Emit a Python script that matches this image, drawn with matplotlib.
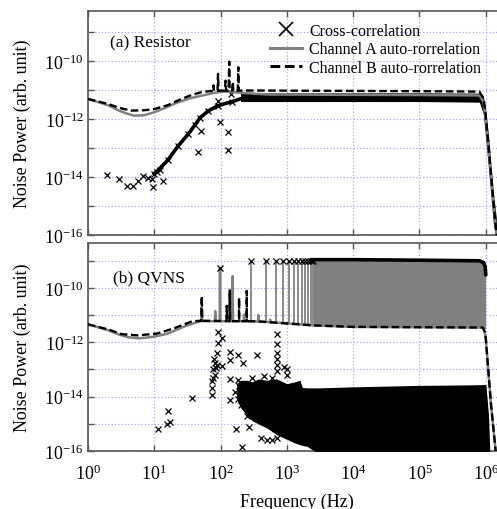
import math
import matplotlib
matplotlib.use('Agg')
import matplotlib.pyplot as plt
from matplotlib.lines import Line2D
from matplotlib.ticker import FixedLocator, FuncFormatter, NullLocator

plt.rcParams['font.family'] = ['Liberation Serif', 'DejaVu Serif']
plt.rcParams['mathtext.fontset'] = 'custom'
plt.rcParams['mathtext.rm'] = 'Liberation Serif'
plt.rcParams['mathtext.it'] = 'Liberation Serif:italic'

# ---------------- (a) Resistor ----------------
res_f_a = [1, 2, 3, 4, 5, 7, 10, 15, 23, 35, 52, 80, 117, 200, 500, 1e4, 1e5,
           8e5, 9.2e5, 1e6, 1.1e6, 1.2e6, 1.3e6, 1.46e6]
res_a = [4.9e-12, 3.0e-12, 1.9e-12, 1.5e-12, 1.3e-12, 1.35e-12, 1.7e-12, 2.5e-12,
         3.8e-12, 5.2e-12, 6.4e-12, 8.0e-12, 8.9e-12, 8.0e-12, 7.0e-12, 6.8e-12,
         6.7e-12, 6.5e-12, 4e-12, 1e-12, 1e-13, 1e-14, 1.4e-15, 1e-16]

res_f_b = [1, 2, 3, 4.5, 7, 10, 16, 24, 35, 52, 70, 77, 78, 79, 90, 91.5, 93,
           115, 119, 121, 132, 135, 137, 150, 153, 155, 182, 185, 188, 250, 1e3,
           1e4, 1e5, 8e5, 9.3e5, 1e6, 1.1e6, 1.2e6, 1.3e6, 1.46e6]
res_b = [4.9e-12, 3.3e-12, 2.4e-12, 1.95e-12, 2.0e-12, 2.2e-12, 3.0e-12, 4.6e-12,
         6.5e-12, 8.5e-12, 9.2e-12, 9.3e-12, 1.45e-11, 9.3e-12, 9.4e-12, 3.6e-11,
         9.5e-12, 9.5e-12, 2.1e-11, 9.5e-12, 9.5e-12, 9.5e-11, 9.5e-12, 9.5e-12,
         1.9e-11, 9.5e-12, 9.5e-12, 6.1e-11, 9.5e-12, 9.6e-12, 9.5e-12, 9.3e-12,
         9.1e-12, 8.8e-12, 5e-12, 1.2e-12, 1.2e-13, 1.2e-14, 1.5e-15, 1e-16]

# cross-correlation: rising part, dense band, scattered points
res_x_f = [10, 16, 23, 32.5, 41, 49, 65, 92, 150, 230]
res_x = [1.28e-14, 3.8e-14, 1.2e-13, 3e-13, 6.2e-13, 1.1e-12, 1.9e-12, 2.9e-12, 4e-12, 5.5e-12]

res_band_f = [200, 300, 1e3, 1e4, 1e5, 8e5, 9.2e5, 1e6, 1.1e6, 1.2e6, 1.3e6, 1.46e6, 1.5e6]
res_band_lo = [4e-12, 4e-12, 4e-12, 4e-12, 4e-12, 3.8e-12, 1.5e-12, 2e-13, 2e-14, 2e-15,
               2.5e-16, 5e-17, 5e-17]
res_band_hi = [8e-12, 8e-12, 8e-12, 8e-12, 8e-12, 7.8e-12, 6e-12, 2e-12, 2.5e-13, 2.5e-14,
               3e-15, 3e-16, 1e-16]

res_sc_f = [1.95, 2.95, 3.9, 4.8, 5.7, 6.8, 8.1, 9.3, 9.6, 11, 12.3, 13.6, 46, 50, 90,
            98, 128, 128, 146]
res_sc = [1.17e-14, 8.5e-15, 4.9e-15, 4.9e-15, 7e-15, 1.1e-14, 9e-15, 8.5e-15, 4.4e-15,
          1.5e-14, 1.7e-14, 7.5e-15, 7.5e-14, 3.9e-13, 4.3e-12, 7.7e-13, 3.6e-13,
          8.3e-14, 7e-12]

# ---------------- (b) QVNS ----------------
q_f_a = [1, 2, 3, 4, 5.7, 8, 11, 16, 29, 49, 51.5, 52, 52.5, 82, 83, 84, 97, 98, 99,
         135, 138, 141, 150, 152, 154, 224, 226, 228, 300, 368, 370, 372, 558, 560,
         562, 1e3, 2.5e3, 1e4, 1e5, 9e5, 9.6e5, 1e6, 1.2e6, 1.41e6]
q_a = [4.6e-12, 2.8e-12, 1.9e-12, 1.55e-12, 1.4e-12, 1.5e-12, 1.7e-12, 2.1e-12,
       3.9e-12, 6.0e-12, 6.0e-12, 2e-11, 6e-12, 6e-12, 1.4e-11, 6e-12, 6e-12, 5.4e-10,
       6e-12, 6e-12, 8.6e-11, 6e-12, 6e-12, 2.7e-10, 6e-12, 6e-12, 1.05e-11, 6e-12,
       6e-12, 5.8e-12, 1e-11, 5.8e-12, 5.5e-12, 6.8e-12, 5.5e-12, 5e-12, 4.2e-12,
       3.7e-12, 3.6e-12, 3.5e-12, 2.5e-12, 1.4e-12, 5e-15, 1e-16]

q_f_b = [1, 2, 3.2, 5.7, 11, 20, 37, 49, 51, 52, 53, 100, 123, 124, 125, 137, 138,
         139, 189, 190, 191, 247, 248, 249, 400, 2.5e3, 1e4, 1e5, 9e5, 9.6e5, 1e6,
         1.2e6, 1.41e6]
q_b = [4.6e-12, 3e-12, 2e-12, 1.8e-12, 2.1e-12, 3.3e-12, 5.9e-12, 6.2e-12, 6.2e-12,
       5e-11, 6.2e-12, 6.1e-12, 6e-12, 2.2e-11, 6e-12, 6e-12, 8.6e-11, 6e-12, 6e-12,
       4.3e-11, 6e-12, 6e-12, 7.8e-11, 6e-12, 5.8e-12, 4.2e-12, 3.7e-12, 3.6e-12,
       3.5e-12, 2.5e-12, 1.4e-12, 5e-15, 1e-16]

# resolved comb tones, then the unresolved comb region
q_tone_f = [285, 485, 685, 885, 1085, 1285, 1485, 1685, 1885, 2085, 2285, 2485]
q_tone_top = [1.0e-9, 1.0e-9, 1.0e-9, 1.0e-9, 1.0e-9, 1.0e-9, 1.0e-9, 1.0e-9, 1.0e-9,
              1.0e-9, 1.0e-9, 1.0e-9]
q_tone_base = [5.8e-12, 5.6e-12, 5.5e-12, 5.3e-12, 5.0e-12, 4.9e-12, 4.8e-12, 4.7e-12,
               4.6e-12, 4.5e-12, 4.4e-12, 4.3e-12]

q_comb_f = [2500, 1e4, 1e5, 9.0e5, 9.9e5]
q_comb_lo = [4.2e-12, 3.7e-12, 3.6e-12, 3.5e-12, 3.0e-12]
q_comb_hi = [1.05e-9, 1.05e-9, 1.0e-9, 9.5e-10, 6e-10]

q_env_f = [2300, 1e4, 1e5, 8e5, 9.3e5, 9.8e5, 1.0e6]
q_env = [1.1e-9, 1.1e-9, 1.05e-9, 1.0e-9, 8.5e-10, 6e-10, 3e-10]

# cross-correlation: noise cloud and scattered points
q_cloud_f = [175, 200, 250, 300, 370, 500, 700, 1000, 1300, 1580, 1700, 2000, 3000,
             1e4, 1e5, 5e5, 1e6, 1.05e6, 1.1e6, 1.15e6]
q_cloud_hi = [3e-14, 4e-14, 4e-14, 3.5e-14, 4.5e-14, 4e-14, 4.5e-14, 3e-14, 3.5e-14,
              4e-14, 2.2e-14, 2.1e-14, 2.1e-14, 2.3e-14, 2.6e-14, 2.7e-14, 2.8e-14,
              7.8e-15, 2.1e-15, 1e-16]
q_cloud_lo = [8e-15, 4e-15, 2e-15, 1.3e-15, 1e-15, 7e-16, 4e-16, 2.7e-16, 2e-16,
              1.7e-16, 1.6e-16, 1.5e-16, 8e-17, 8e-17, 8e-17, 8e-17, 8e-17, 8e-17,
              8e-17, 8e-17]

q_sc_f = [11.5, 15.7, 17.3, 16.2, 37.5, 92, 104, 92, 87, 82, 78, 82, 73, 73, 73, 78,
          85, 80, 88, 104, 138, 141, 185, 220, 358, 138, 138, 170, 208, 270, 710, 710,
          710, 710, 710, 710, 1010, 1020, 98, 180, 220, 300, 450, 600, 900, 165, 180,
          200, 400, 500, 600, 700, 250, 190]
q_sc = [6.7e-16, 1.0e-15, 1.2e-15, 3e-15, 9e-15, 2.3e-12, 1.4e-12, 9.2e-13, 4e-13,
        1.7e-13, 1e-13, 6.5e-14, 3.8e-14, 2.1e-14, 1.2e-14, 5e-14, 1.1e-13, 2.5e-13,
        1.5e-13, 1.3e-13, 4.3e-13, 2.3e-13, 3.4e-13, 1.7e-13, 3.4e-13, 4.6e-14,
        7.6e-15, 6.6e-16, 1.4e-16, 7.5e-16, 2e-12, 8.5e-13, 4e-13, 2.5e-13, 1.5e-13,
        9e-14, 1e-13, 6.5e-14, 5.4e-10, 4e-14, 3e-14, 5e-14, 6e-14, 5e-14, 1.2e-13,
        1.5e-14, 8e-15, 5e-15, 3e-16, 2.5e-16, 2.5e-16, 3e-16, 2e-15, 2.5e-14]

x_ticks = [1, 10, 100, 1e3, 1e4, 1e5, 1e6]
y_ticks = [1e-16, 1e-15, 1e-14, 1e-13, 1e-12, 1e-11, 1e-10, 1e-9]

GRAY = '#808080'
W, H = 497, 510

fig = plt.figure(figsize=(W / 100, H / 100), dpi=100)
ax1 = fig.add_axes([88 / W, 1 - 236 / H, 418 / W, 224 / H])
ax2 = fig.add_axes([88 / W, 1 - 452 / H, 418 / W, 208 / H])


def yfmt(v, pos):
    e = int(round(math.log10(v)))
    return r'$10^{%d}$' % e if e % 2 == 0 else ''


def xfmt(v, pos):
    e = int(round(math.log10(v)))
    return r'$10^{%d}$' % e


for ax in (ax1, ax2):
    ax.set_xscale('log')
    ax.set_yscale('log')
    ax.set_xlim(1, 10 ** 6.305)
    ax.xaxis.set_major_locator(FixedLocator(x_ticks))
    ax.yaxis.set_major_locator(FixedLocator(y_ticks))
    ax.xaxis.set_minor_locator(NullLocator())
    ax.yaxis.set_minor_locator(NullLocator())
    ax.yaxis.set_major_formatter(FuncFormatter(yfmt))
    ax.grid(True, color='#a8a8f0', ls=':', lw=0.9)
    ax.tick_params(direction='in', top=True, right=True, length=4.5, width=1,
                   color='#555555', labelsize=13, pad=3)
    ax.tick_params(axis='x', pad=9)
    for s in ax.spines.values():
        s.set_color('#555555')
        s.set_linewidth(1.2)
    ax.set_ylabel('Noise Power (arb. unit)', fontsize=13)
    ax.yaxis.set_label_coords(-0.136, 0.5)

ax1.set_ylim(1e-16, 10 ** -8.276)
ax2.set_ylim(1e-16, 10 ** -8.345)
ax1.xaxis.set_major_formatter(FuncFormatter(lambda v, p: ''))
ax2.xaxis.set_major_formatter(FuncFormatter(xfmt))

# (a) Resistor
mk = dict(marker='x', ls='none', color='black', ms=4.5, mew=0.9)
ax1.fill_between(res_band_f, res_band_lo, res_band_hi, color='black', lw=0, zorder=2)
ax1.plot(res_x_f, res_x, color='black', lw=2.6, zorder=2)
ax1.plot(res_x_f, res_x, zorder=2, **mk)
ax1.plot(res_sc_f, res_sc, zorder=2, **mk)
ax1.plot(res_f_a, res_a, color=GRAY, lw=1.8, zorder=3)
ax1.plot(res_f_b, res_b, color='black', lw=1.7, ls=(0, (3.2, 1.5)), zorder=4)

# (b) QVNS
ax2.fill_between(q_comb_f, q_comb_lo, q_comb_hi, color=GRAY, lw=0, zorder=2)
ax2.vlines(q_tone_f, q_tone_base, q_tone_top, color=GRAY, lw=1.3, zorder=2)
ax2.plot(q_f_a, q_a, color=GRAY, lw=1.8, zorder=2)
ax2.plot(q_f_b, q_b, color='black', lw=1.7, ls=(0, (3.2, 1.5)), zorder=3)
ax2.plot(q_env_f, q_env, color='black', lw=2.6, zorder=3, solid_capstyle='round')
ax2.fill_between(q_cloud_f, q_cloud_lo, q_cloud_hi, color='black', lw=0, zorder=4)
ax2.plot(q_sc_f, q_sc, zorder=4, **mk)
ax2.plot(q_tone_f, q_tone_top, zorder=4, **mk)
ax2.set_xlabel('Frequency (Hz)', fontsize=13)
ax2.xaxis.set_label_coords(0.5, -0.2)

fig.text(110 / W, 1 - 43 / H, '(a) Resistor', fontsize=12.5, va='center')
fig.text(113 / W, 1 - 278 / H, '(b) QVNS', fontsize=12.5, va='center')

handles = [Line2D([], [], marker='x', ls='none', color='black', ms=10, mew=1.2),
           Line2D([], [], color=GRAY, lw=2.2),
           Line2D([], [], color='black', lw=2.2, ls=(0, (3.2, 1.5)))]
labels = ['Cross-correlation', 'Channel A auto-rorrelation', 'Channel B auto-rorrelation']
ax1.legend(handles, labels, loc='upper left', bbox_to_anchor=(270 / W, 1 - 24 / H),
           bbox_transform=fig.transFigure, frameon=False, fontsize=11.5,
           handlelength=2.0, handletextpad=0.45, labelspacing=0.15, borderpad=0,
           borderaxespad=0)

fig.savefig('out.png', dpi=100)
